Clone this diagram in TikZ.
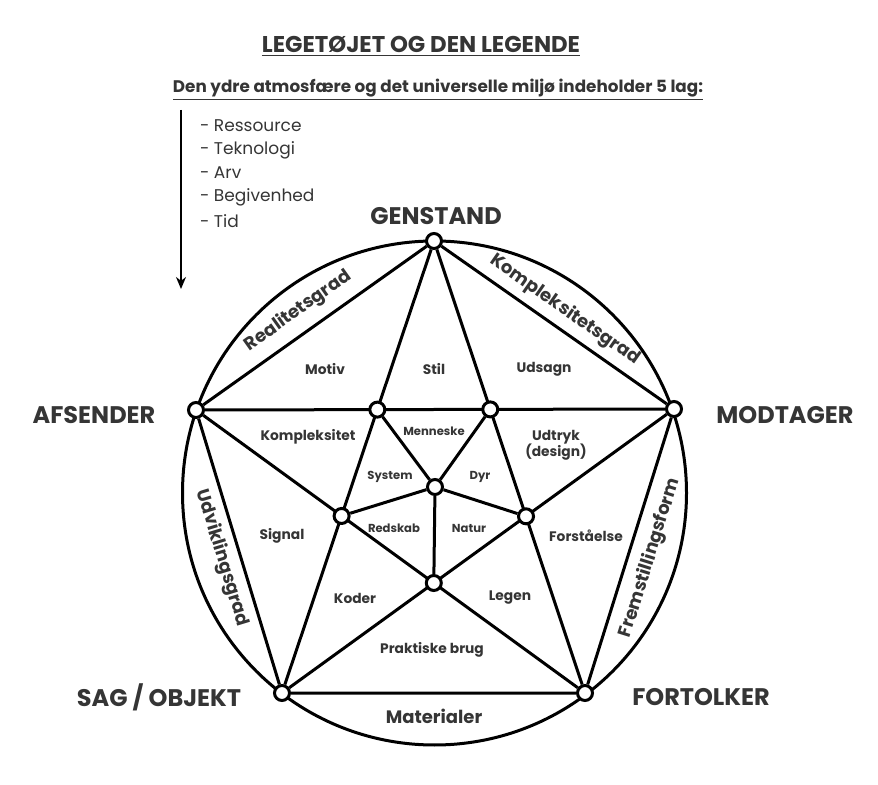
\documentclass[tikz,border=0pt]{standalone}
\usepackage{fontspec}
\setmainfont{Poppins}
\usetikzlibrary{arrows.meta,backgrounds}
\definecolor{ink}{HTML}{353535}
\tikzset{
  vtx/.style={circle,draw=black,fill=white,line width=1.5pt,minimum size=7.5pt,inner sep=0pt},
  edge/.style={line width=1.5pt},
  corner/.style={text=ink,font=\fontsize{12}{14}\selectfont\bfseries},
  field/.style={text=ink,font=\fontsize{6.9}{8.2}\selectfont\bfseries,align=center},
  core/.style={text=ink,font=\fontsize{5.8}{7}\selectfont\bfseries},
  rim/.style={text=ink,font=\fontsize{9}{11}\selectfont\bfseries},
  layer/.style={text=ink,font=\fontsize{8.5}{10}\selectfont,anchor=west}
}
\begin{document}
\begin{tikzpicture}[x=0.5pt,y=-0.5pt]
  \useasboundingbox (0,0) rectangle (878,785);

  % heading
  \node[text=ink,font=\fontsize{11.4}{13}\selectfont\bfseries] (title) at (421,46) {\underline{LEGETØJET OG DEN LEGENDE}};
  \node[text=ink,font=\fontsize{8.4}{10}\selectfont\bfseries] (sub) at (438,90) {\underline{Den ydre atmosfære og det universelle miljø indeholder 5 lag:}};

  % the five layers and the arrow
  \node[layer] (l1) at (193,126) {- Ressource};
  \node[layer] (l2) at (193,150) {- Teknologi};
  \node[layer] (l3) at (193,173) {- Arv};
  \node[layer] (l4) at (193,197) {- Begivenhed};
  \node[layer] (l5) at (193,221) {- Tid};
  \coordinate (arrtop) at (181,110);
  \coordinate (arrbot) at (181,289);
  \draw[line width=1pt,-{Stealth[length=6pt,width=5pt]}] (arrtop) -- (arrbot);

  % corners of the pentagon
  \coordinate (pG) at (434,241);
  \coordinate (pA) at (196,410);
  \coordinate (pM) at (674,409);
  \coordinate (pS) at (282,693);
  \coordinate (pF) at (585,693);
  \coordinate (pC) at (435,487);
  % inner star points
  \coordinate (q1) at (intersection of pG--pS and pA--pM);
  \coordinate (q2) at (intersection of pG--pF and pA--pM);
  \coordinate (q3) at (intersection of pG--pS and pA--pF);
  \coordinate (q4) at (intersection of pG--pF and pM--pS);
  \coordinate (q5) at (intersection of pA--pF and pM--pS);

  \node[vtx] (G) at (pG) {};
  \node[vtx] (A) at (pA) {};
  \node[vtx] (M) at (pM) {};
  \node[vtx] (S) at (pS) {};
  \node[vtx] (F) at (pF) {};
  \node[vtx] (ul) at (q1) {};
  \node[vtx] (ur) at (q2) {};
  \node[vtx] (ml) at (q3) {};
  \node[vtx] (mr) at (q4) {};
  \node[vtx] (bt) at (q5) {};
  \node[vtx] (C) at (pC) {};

  \begin{scope}[on background layer]
    \draw[edge] (434.5,493) circle[radius=252];
    % pentagon
    \draw[edge] (G) -- (A) -- (S) -- (F) -- (M) -- (G);
    % star
    \draw[edge] (G) -- (S);
    \draw[edge] (G) -- (F);
    \draw[edge] (A) -- (M);
    \draw[edge] (A) -- (F);
    \draw[edge] (M) -- (S);
    % spokes from the centre
    \foreach \p in {ul,ur,ml,mr,bt}
      \draw[edge] (C) -- (\p);
  \end{scope}

  % corner labels
  \node[corner] (tG) at (436,216) {GENSTAND};
  \node[corner] (tA) at (94,415) {AFSENDER};
  \node[corner] (tM) at (785,415) {MODTAGER};
  \node[corner] (tS) at (159,697) {SAG / OBJEKT};
  \node[corner] (tF) at (701,697) {FORTOLKER};

  % labels between chords and circle
  \node[rim,rotate=35.4] (r1) at (298,311) {Realitetsgrad};
  \node[rim,rotate=-35] (r2) at (565,310) {Kompleksitetsgrad};
  \node[rim,rotate=-73.1] (r3) at (222,558) {Udviklingsgrad};
  \node[rim,rotate=72.6] (r4) at (650,558) {Fremstillingsform};
  \node[rim] (r5) at (434,716) {Materialer};

  % fields
  \node[field] (f1) at (325,369) {Motiv};
  \node[field] (f2) at (434,369) {Stil};
  \node[field] (f3) at (544,369) {Udsagn};
  \node[field] (f4) at (308,437) {Kompleksitet};
  \node[field] (f5) at (556,445) {Udtryk\\(design)};
  \node[field] (f6) at (282,536) {Signal};
  \node[field] (f7) at (586,536) {Forståelse};
  \node[field] (f8) at (355,598) {Koder};
  \node[field] (f9) at (510,598) {Legen};
  \node[field] (f10) at (432,650) {Praktiske brug};

  % core
  \node[core] (c1) at (434,431) {Menneske};
  \node[core] (c2) at (390,477) {System};
  \node[core] (c3) at (480,477) {Dyr};
  \node[core] (c4) at (394,528) {Redskab};
  \node[core] (c5) at (469,528) {Natur};
\end{tikzpicture}
\end{document}
